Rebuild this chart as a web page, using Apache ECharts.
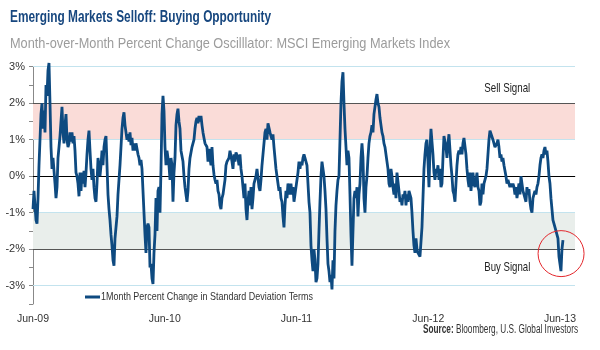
<!DOCTYPE html>
<html>
<head>
<meta charset="utf-8">
<script src="https://cdn.jsdelivr.net/npm/echarts@6/dist/echarts.min.js"></script>
<style>
html,body{margin:0;padding:0;background:#fff;}
#c{width:600px;height:350px;}
</style>
</head>
<body>
<div id="c"></div>
<script>
// ---- DATA ----
var titleText = 'Emerging Markets Selloff: Buying Opportunity';
var subtitleText = 'Month-over-Month Percent Change Oscilllator: MSCI Emerging Markets Index';
var seriesName = '1Month Percent Change in Standard Deviation Terms';
var sourceBold = 'Source:';
var sourceRest = ' Bloomberg, U.S. Global Investors';
var xLabels = ['Jun-09', 'Jun-10', 'Jun-11', 'Jun-12', 'Jun-13'];
var sellLabel = 'Sell Signal';
var buyLabel = 'Buy Signal';
// oscillator values, sampled evenly from Jun-09 to mid-Jun-13 (std. dev. terms)
var values2009 = [-0.9,-0.4,-0.8,-1.2,-1.3,-0.6,0.3,1.0,1.7,2.0,1.3,1.8,1.2,2.5,2.2,2.9,3.1,2.0,0.8,0.2,0.5,0.55,-0.2,-0.6,-0.3,0.5,0.8,1.1,1.5,1.9,1.2,0.9,1.4,1.7,1.0,0.8,0.9,1.2,0.95,1.2,0.9,1.1,0.7,0.1,0.0,-0.2,-0.55,0.1,-0.4,0.1,-0.2,0.15,-0.3,0.1,0.6,1.0,1.25,0.7,0.2,-0.1,0.2,-0.3,-0.6,-0.7,-0.2,0.5,0.3,0.0,0.3,0.7,0.3,0.8,1.0];
var values2010a = [1.1,0.3,-0.5,-0.9,-1.2,-1.6,-1.9,-2.3,-2.45,-1.7,-1.65,-1.1,-0.5,-0.1,0.3,0.8,1.3,1.6,1.75,1.4,1.2,1.0,1.15,0.95,1.2,0.85,1.05,0.7,0.9,0.7,0.9,0.95,0.6,0.5,0.3,0.45,0.2,-0.4,-1.0,-1.6,-2.1,-1.4,-1.3,-1.4,-2.5,-2.4,-2.8,-2.95,-2.1,-1.6,-0.6,-1.5,-0.4,-0.3,-1.0,0.2,1.7,2.2,1.8,0.8,0.3,0.7,0.5,0.3,-0.1,0.5,0.3,-0.7,0.1,0.5,1.4,1.7,1.85,1.5,1.3,0.7];
var values2010b = [0.7,0.4,0.0,-0.3,-0.5,-0.7,-0.4,0.2,0.5,0.5,0.8,0.9,1.0,1.3,1.5,1.6,1.45,1.65,1.5,1.65,1.4,1.2,1.05,0.9,0.9,0.8,0.4,0.75,0.5,0.3,0.8,0.3,0.05,-0.1,-0.2,-0.1,-0.4,-0.5,-0.8,-0.9,-0.6,-0.5,-0.3,-0.1,0.3,0.4,0.4,0.5,0.7,0.65,0.4,0.2,0.6,0.4,0.65,0.6,0.5,0.3,0.6,0.2,0.0,-0.3,-0.6,-0.2,-0.9,-1.2,-0.7,-0.4,-0.8,-0.3,-0.9,-0.6,-0.2,-0.1,0.0,0.2];
var values2011a = [0.2,-0.3,-0.4,-0.1,0.3,0.6,0.9,1.2,1.3,1.0,1.45,1.4,1.2,1.1,1.0,1.15,0.8,0.5,0.2,0.0,-0.2,-0.4,-0.3,-0.6,-0.7,-1.1,-1.4,-0.8,-0.4,-0.6,-0.2,-0.2,-0.5,-0.2,-0.5,-0.3,-0.7,-0.5,-0.3,-0.1,0.1,0.4,0.2,0.4,0.3,0.5,0.6,0.5,0.5,0.3,-0.2,-0.7,-1.0,-1.9,-2.3,-2.6,-2.0,-2.3,-2.9,-2.8,-2.4,-1.5,-0.7,0.0,0.4,0.2,0.0,-0.4,-0.9,-1.7,-2.4,-2.6,-2.9,-2.7,-3.1,-2.3];
var values2011b = [-2.8,-1.5,-0.8,-0.4,-0.1,0.0,1.0,2.0,2.6,2.85,2.0,1.3,0.8,0.3,0.7,0.5,-0.5,-1.6,-2.45,-1.5,-0.6,-0.4,-0.6,-0.3,-1.1,-0.5,-0.2,0.5,0.9,0.5,-0.6,-1.0,-0.3,0.0,0.5,0.9,1.1,1.2,1.4,1.2,1.7,1.9,2.1,2.25,2.0,1.9,1.6,1.4,1.2,1.1,0.9,0.8,0.6,0.4,0.2,-0.2,-0.3,0.2,0.0,-0.3,-0.5,-0.2,-0.6,0.1,0.15,-0.4,-0.7,-0.6,-0.8,-0.5,-0.6,-0.4,-0.8,-0.5,-0.7,-0.4];
var values2012 = [-0.4,-0.6,-1.0,-1.5,-1.9,-2.1,-1.7,-2.0,-2.1,-2.15,-2.2,-2.2,-1.4,-0.6,0.2,0.6,0.9,1.0,0.4,-0.3,0.7,1.3,1.35,0.6,0.1,-0.1,0.2,0.1,0.3,-0.1,0.2,-0.3,-0.2,0.5,1.1,1.15,0.8,0.5,0.9,1.15,1.2,0.3,0.0,-0.4,-0.5,-0.7,-0.2,0.3,0.6,0.7,0.6,0.8,0.6,0.9,1.05,1.1,0.6,0.2,-0.1,-0.3,0.1,-0.4,-0.1,0.1,-0.2,-0.3,-0.1,0.1,-0.3,-0.4,-0.8,-0.7,-0.2,-0.5,-0.2,-0.1];
var values2013 = [0.0,0.2,0.6,1.0,1.25,1.2,1.2,1.0,0.9,0.8,0.85,0.9,1.0,0.8,0.5,0.6,0.4,0.5,0.3,0.3,0.0,-0.2,-0.1,-0.2,-0.3,-0.2,-0.3,-0.2,-0.3,-0.5,-0.3,-0.6,-0.4,-0.2,-0.5,0.0,0.0,-0.4,-0.5,-0.6,-0.7,-0.3,-0.5,-0.35,-0.7,-0.9,-1.0,-0.6,-0.5,-0.4,-0.5,-0.3,-0.2,0.0,0.3,0.5,0.6,0.5,0.7,0.8,0.6,0.7,0.4,0.0,-0.2,-0.6,-0.9,-1.2,-1.3,-1.3,-1.5,-1.6,-1.7,-2.2,-2.4,-2.6,-2.0,-1.75];
var sellBand = [1, 2];
var buyBand = [-1, -2];
var circleAt = [48.1, -2.12]; // months since Jun-09, value

// ---- build ----
var allValues = [].concat(values2009, values2010a, values2010b, values2011a, values2011b, values2012, values2013);
var monthsPerStep = 48 / 527; // sample spacing in months
var lineData = allValues.map(function (v, i) { return [i * monthsPerStep, v]; });

var FONT = "'Liberation Sans', Arial, sans-serif";
var LINE_COLOR = '#0e4a80';
var chart = echarts.init(document.getElementById('c'), null, {renderer: 'canvas'});

// condensed look: measure text and squeeze horizontally to the reference width
var mctx = document.createElement('canvas').getContext('2d');
function measure(text, font) { mctx.font = font; return mctx.measureText(text).width; }

var hLines = [
  {v: 3, c: '#c3e3ee'}, {v: 2, c: '#555555'}, {v: 1, c: '#c3e3ee'},
  {v: 0, c: '#000000'}, {v: -1, c: '#c3e3ee'}, {v: -2, c: '#555555'}, {v: -3, c: '#c3e3ee'}
];

chart.setOption({
  animation: false,
  grid: {left: 33, right: 25, top: 66.7, bottom: 46, containLabel: false},
  xAxis: {
    type: 'value', min: 0, max: 49.37, interval: 12,
    axisLine: {show: true, lineStyle: {color: '#999', width: 1}},
    axisTick: {show: false},
    splitLine: {show: false},
    axisLabel: {
      margin: 10, fontFamily: FONT, fontSize: 10.5, color: '#333',
      formatter: function (v) { var k = Math.round(v / 12); return (Math.abs(v - k * 12) < 1e-6 && xLabels[k]) ? xLabels[k] : ''; }
    }
  },
  yAxis: {
    type: 'value', min: -3.5, max: 3, interval: 0.5,
    axisLine: {show: true, lineStyle: {color: '#888', width: 1}},
    axisTick: {show: true, length: 4, lineStyle: {color: '#888'}},
    splitLine: {show: false},
    axisLabel: {
      margin: 8, fontFamily: FONT, fontSize: 11, color: '#333',
      formatter: function (v) { return (Math.abs(v - Math.round(v)) < 1e-6 && v >= -3) ? Math.round(v) + '%' : ''; }
    }
  },
  series: [
    {
      type: 'line', name: 'bands', data: [], silent: true, z: 1,
      markArea: {
        silent: true,
        data: [
          [{yAxis: sellBand[0], itemStyle: {color: '#fadcd8'}}, {yAxis: sellBand[1]}],
          [{yAxis: buyBand[0], itemStyle: {color: '#e9eeeb'}}, {yAxis: buyBand[1]}]
        ]
      },
      markLine: {
        silent: true, symbol: 'none', label: {show: false}, animation: false,
        data: hLines.map(function (h) { return {yAxis: h.v, lineStyle: {color: h.c, width: 1, type: 'solid'}}; })
      }
    },
    {
      type: 'line', name: seriesName, data: lineData, z: 5,
      showSymbol: false, symbol: 'none', clip: false,
      lineStyle: {color: LINE_COLOR, width: 2.8},
      itemStyle: {color: LINE_COLOR}
    }
  ]
});

var c = chart.convertToPixel({gridIndex: 0}, circleAt);
var pSell = chart.convertToPixel({gridIndex: 0}, [43.2, 2.4]);
var pBuy = chart.convertToPixel({gridIndex: 0}, [43.2, -2.5]);

var fTitle = 'bold 16px ' + FONT, fSub = '14.5px ' + FONT, fLeg = '11.5px ' + FONT, fSig = '13px ' + FONT;
var fSrcB = 'bold 12px ' + FONT, fSrc = '12px ' + FONT;
var srcW = measure(sourceBold, fSrcB) + measure(sourceRest, fSrc);
var srcScale = 155 / srcW;

chart.setOption({
  graphic: [
    {type: 'text', x: 10, y: 10, scaleX: 261 / measure(titleText, fTitle), style: {text: titleText, font: fTitle, fill: '#17477f'}},
    {type: 'text', x: 10, y: 36, scaleX: 440 / measure(subtitleText, fSub), style: {text: subtitleText, font: fSub, fill: '#9c9c9c'}},
    {type: 'circle', shape: {cx: c[0], cy: c[1], r: 23}, style: {fill: 'none', stroke: '#e3262b', lineWidth: 1}, z: 10},
    {type: 'text', x: pSell[0], y: pSell[1], scaleX: 46 / measure(sellLabel, fSig), style: {text: sellLabel, font: fSig, fill: '#222', align: 'center', verticalAlign: 'middle'}, z: 10},
    {type: 'text', x: pBuy[0], y: pBuy[1], scaleX: 46 / measure(buyLabel, fSig), style: {text: buyLabel, font: fSig, fill: '#222', align: 'center', verticalAlign: 'middle'}, z: 10},
    // legend
    {type: 'line', shape: {x1: 85, y1: 297, x2: 100, y2: 297}, style: {stroke: LINE_COLOR, lineWidth: 3}, z: 10},
    {type: 'text', x: 101, y: 297, scaleX: 212 / measure(seriesName, fLeg), style: {text: seriesName, font: fLeg, fill: '#333', verticalAlign: 'middle'}, z: 10},
    // source
    {type: 'text', x: 578, y: 330, scaleX: srcScale, style: {
      text: '{b|' + sourceBold + '}' + sourceRest, font: fSrc, fill: '#333', align: 'right', verticalAlign: 'middle',
      rich: {b: {fontWeight: 'bold', fontFamily: FONT, fontSize: 12, fill: '#333'}}
    }, z: 10}
  ]
});
</script>
</body>
</html>
